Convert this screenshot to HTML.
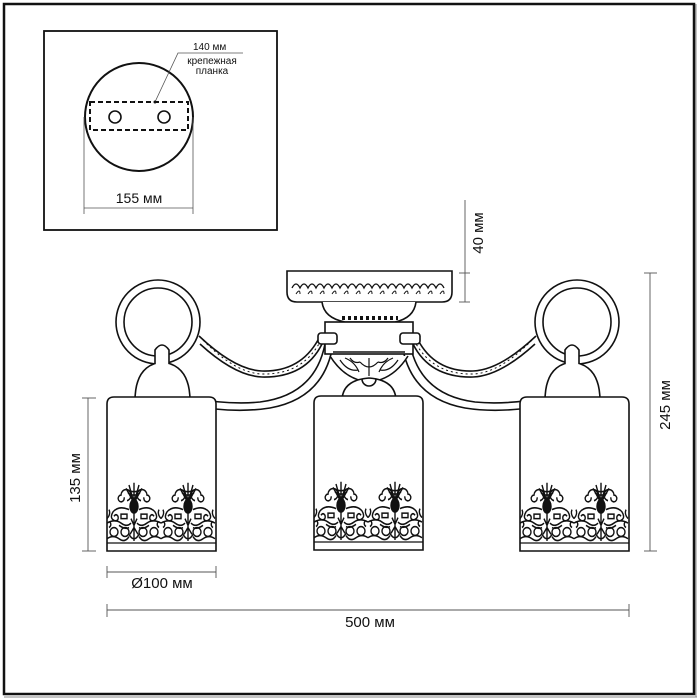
<!DOCTYPE html>
<html><head><meta charset="utf-8"><style>
html,body{margin:0;padding:0;background:#fff;}
svg{display:block;}
text{font-family:"Liberation Sans",sans-serif;fill:#111;}
</style></head><body>
<svg width="700" height="700" viewBox="0 0 700 700" xmlns="http://www.w3.org/2000/svg">
<defs>
<g id="m" fill="none" stroke="#111" stroke-width="1.4">
  <path d="M27 16 L19 3 M27 16 L22 0 M27 16 L27 -2 M27 16 L32 0 M27 16 L35 3"/>
  <path d="M20 4 Q27 8 34 4 M21 7 Q27 11 33 7"/>
  <ellipse cx="27" cy="19" rx="4" ry="6" fill="#111"/>
  <path d="M27 24 V50 M24 30 L27 36 L30 30 M23 44 L27 38 L31 44"/>
  <path d="M20 14 a5 5 0 1 0 -6 -5 a3 3 0 1 0 3 2"/>
  <path d="M34 14 a5 5 0 1 1 6 -5 a3 3 0 1 1 -3 2"/>
  <path d="M22 22 Q12 18 6 24 Q2 30 8 32 Q12 32 11 28 Q9 25 7 28"/>
  <path d="M32 22 Q42 18 48 24 Q52 30 46 32 Q42 32 43 28 Q45 25 47 28"/>
  <path d="M14 26 h6 v4 h-6z M34 26 h6 v4 h-6z"/>
  <path d="M0 34 Q8 30 14 34 Q20 38 24 34 M30 34 Q34 38 40 34 Q46 30 54 34"/>
  <path d="M0 30 Q4 26 2 22 M54 30 Q50 26 52 22"/>
  <circle cx="7" cy="42" r="4"/><circle cx="18" cy="42" r="4"/>
  <circle cx="36" cy="42" r="4"/><circle cx="47" cy="42" r="4"/>
  <path d="M0 48 Q6 44 12 48 Q18 52 22 46 M32 46 Q36 52 42 48 Q48 44 54 48"/>
  <path d="M22 44 Q27 52 32 44 M12 36 Q18 40 22 38 M42 36 Q36 40 32 38"/>
  <path d="M2 38 Q5 36 3 33 M52 38 Q49 36 51 33"/>
</g>
<g id="shade" fill="none" stroke="#111" stroke-width="1.6">
  <path d="M0 154 V7 Q0 0 7 0 H102 Q109 0 109 7 V154 Z" fill="#fff"/>
  <g transform="translate(0,88) scale(1,1.12)">
    <use href="#m" x="0" y="0"/>
    <use href="#m" x="54" y="0"/>
  </g>
  <line x1="0" y1="146" x2="109" y2="146" stroke-width="1.2"/>
</g>
</defs>

<!-- outer frame -->
<rect x="4" y="4" width="690" height="690" fill="none" stroke="#111" stroke-width="2.5"/>
<line x1="696" y1="4" x2="696" y2="697" stroke="#888" stroke-width="1"/>
<line x1="4" y1="697" x2="697" y2="697" stroke="#888" stroke-width="1"/>

<!-- inset -->
<rect x="44" y="31" width="233" height="199" fill="none" stroke="#111" stroke-width="1.8"/>
<circle cx="139" cy="117" r="54" fill="none" stroke="#111" stroke-width="2"/>
<rect x="90" y="102" width="98" height="28" fill="none" stroke="#111" stroke-width="2" stroke-dasharray="5,3"/>
<circle cx="115" cy="117" r="6" fill="none" stroke="#111" stroke-width="1.6"/>
<circle cx="164" cy="117" r="6" fill="none" stroke="#111" stroke-width="1.6"/>
<polyline points="243,53 178,53 155,102" fill="none" stroke="#555" stroke-width="0.8"/>
<circle cx="155" cy="102" r="1.5" fill="#111"/>
<text x="193" y="50" font-size="10">140 мм</text>
<text x="212" y="64" font-size="10" text-anchor="middle">крепежная</text>
<text x="212" y="74" font-size="10" text-anchor="middle">планка</text>
<line x1="84" y1="117" x2="84" y2="214" stroke="#555" stroke-width="0.8"/>
<line x1="193" y1="117" x2="193" y2="214" stroke="#555" stroke-width="0.8"/>
<line x1="84" y1="208" x2="193" y2="208" stroke="#555" stroke-width="0.8"/>
<text x="139" y="203" font-size="14" text-anchor="middle">155 мм</text>

<!-- chandelier -->
<g fill="none" stroke="#111" stroke-width="1.6">
  <!-- loops -->
  <circle cx="158" cy="322" r="42"/><circle cx="158" cy="322" r="34"/>
  <circle cx="577" cy="322" r="42"/><circle cx="577" cy="322" r="34"/>
  <!-- rope arms -->
  <path d="M199 336 Q235 370 262 371 Q300 372 318 340"/>
  <path d="M200 344 Q235 376 262 377 Q305 378 322 344"/>
  <path d="M203 340 Q235 373 262 374 Q302 375 320 342" stroke-width="1" stroke-dasharray="2,3"/>
  <path d="M536 336 Q500 370 473 371 Q435 372 418 340"/>
  <path d="M535 344 Q500 376 473 377 Q430 378 413 344"/>
  <path d="M532 340 Q500 373 473 374 Q433 375 415 342" stroke-width="1" stroke-dasharray="2,3"/>
  <!-- lower arms -->
  <path d="M190 398 Q230 405 260 402 Q315 395 325 344"/>
  <path d="M215 409 Q245 412 270 408 Q325 398 333 344"/>
  <path d="M545 398 Q505 405 475 402 Q420 395 410 344"/>
  <path d="M520 409 Q490 412 465 408 Q410 398 402 344"/>
  <!-- canopy -->
  <path d="M287 271 H452 V292 Q452 302 442 302 H297 Q287 302 287 292 Z" fill="#fff"/>
  <path d="M292 288 q4 -8 8 0 q4 -8 8 0 q4 -8 8 0 q4 -8 8 0 q4 -8 8 0 q4 -8 8 0 q4 -8 8 0 q4 -8 8 0 q4 -8 8 0 q4 -8 8 0 q4 -8 8 0 q4 -8 8 0 q4 -8 8 0 q4 -8 8 0 q4 -8 8 0 q4 -8 8 0 q4 -8 8 0 q4 -8 8 0 q4 -8 8 0" stroke-width="1.3"/>
  <path d="M296 294 q4 -6 4 0 M308 294 q4 -6 4 0 M320 294 q4 -6 4 0 M332 294 q4 -6 4 0 M344 294 q4 -6 4 0 M356 294 q4 -6 4 0 M368 294 q4 -6 4 0 M380 294 q4 -6 4 0 M392 294 q4 -6 4 0 M404 294 q4 -6 4 0 M416 294 q4 -6 4 0 M428 294 q4 -6 4 0 M440 294 q4 -6 4 0" stroke-width="1"/>
  <path d="M322 302 Q324 318 345 322 H395 Q414 318 416 302" fill="#fff"/>
  <path d="M342 318 h56" stroke-width="4" stroke-dasharray="3,3"/>
  <rect x="325" y="322" width="88" height="32" fill="#fff"/>
  <rect x="318" y="333" width="19" height="11" rx="3" fill="#fff"/>
  <rect x="400" y="333" width="20" height="11" rx="3" fill="#fff"/>
  <line x1="333" y1="352" x2="405" y2="352"/>
  <!-- center ornament -->
  <path d="M330 356 Q345 380 369 382 Q393 380 408 356" fill="#fff"/>
  <path d="M340 360 q8 12 18 10 M398 360 q-8 12 -18 10 M369 358 v18 M360 362 q9 10 18 0 M350 358 q4 6 10 4 M388 358 q-4 6 -10 4 M345 358 q10 4 14 14 M393 358 q-10 4 -14 14" stroke-width="1.2"/>
  <path d="M342 401 Q342 380 369 378 Q396 380 396 401" fill="#fff"/>
  <path d="M362 379 a7 7 0 0 0 14 0"/>
  <!-- side holders -->
  <path d="M135 401 Q135 365 162 362 Q190 365 190 401" fill="#fff"/>
  <path d="M155 364 V350 Q162 340 169 350 V364" fill="#fff"/>
  <path d="M545 401 Q545 365 572 362 Q600 365 600 401" fill="#fff"/>
  <path d="M565 364 V350 Q572 340 579 350 V364" fill="#fff"/>
</g>
<use href="#shade" x="107" y="397"/>
<use href="#shade" x="314" y="396"/>
<use href="#shade" x="520" y="397"/>

<!-- dimensions -->
<g stroke="#555" stroke-width="0.9" fill="none">
  <line x1="88" y1="398" x2="88" y2="551"/>
  <line x1="82" y1="398" x2="96" y2="398"/><line x1="82" y1="551" x2="96" y2="551"/>
  <line x1="107" y1="572" x2="216" y2="572"/>
  <line x1="107" y1="566" x2="107" y2="578"/><line x1="216" y1="566" x2="216" y2="578"/>
  <line x1="107" y1="610" x2="629" y2="610"/>
  <line x1="107" y1="604" x2="107" y2="617"/><line x1="629" y1="604" x2="629" y2="617"/>
  <line x1="650" y1="273" x2="650" y2="551"/>
  <line x1="644" y1="273" x2="657" y2="273"/><line x1="644" y1="551" x2="657" y2="551"/>
  <line x1="465" y1="200" x2="465" y2="302"/>
  <line x1="459" y1="273" x2="470" y2="273"/><line x1="459" y1="302" x2="470" y2="302"/>
</g>
<text x="0" y="0" font-size="15" text-anchor="middle" transform="translate(80,478) rotate(-90)">135 мм</text>
<text x="162" y="588" font-size="15" text-anchor="middle">Ø100 мм</text>
<text x="370" y="627" font-size="15" text-anchor="middle">500 мм</text>
<text x="0" y="0" font-size="15" text-anchor="middle" transform="translate(670,405) rotate(-90)">245 мм</text>
<text x="0" y="0" font-size="15" text-anchor="middle" transform="translate(483,233) rotate(-90)">40 мм</text>
</svg>
</body></html>
